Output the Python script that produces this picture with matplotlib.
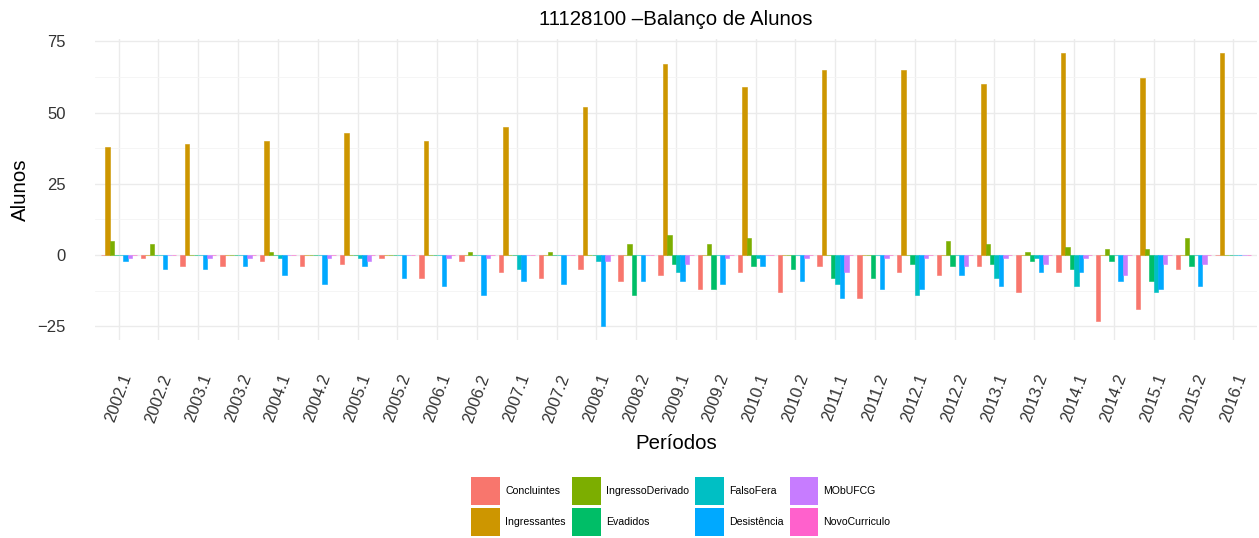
import numpy as np
import matplotlib
matplotlib.use("Agg")
import matplotlib.pyplot as plt
from matplotlib.patches import Patch

plt.rcParams['font.family'] = ['Liberation Sans', 'DejaVu Sans']

# Periodos (eixo x)
periodos = ["2002.1", "2002.2", "2003.1", "2003.2", "2004.1", "2004.2", "2005.1", "2005.2",
            "2006.1", "2006.2", "2007.1", "2007.2", "2008.1", "2008.2", "2009.1", "2009.2",
            "2010.1", "2010.2", "2011.1", "2011.2", "2012.1", "2012.2", "2013.1", "2013.2",
            "2014.1", "2014.2", "2015.1", "2015.2", "2016.1"]

# Valores de cada serie
concluintes = [0, -1, -4, -4, -2, -4, -3, -1, -8, -2, -6, -8, -5, -9, -7, -12,
               -6, -13, -4, -15, -6, -7, -4, -13, -6, -23, -19, -5, 0]
ingressantes = [38, 0, 39, 0, 40, 0, 43, 0, 40, 0, 45, 0, 52, 0, 67, 0,
                59, 0, 65, 0, 65, 0, 60, 0, 71, 0, 62, 0, 71]
ingresso_derivado = [5, 4, 0, 0, 1, 0, 0, 0, 0, 1, 0, 1, 0, 4, 7, 4,
                     6, 0, 0, 0, 0, 5, 4, 1, 3, 2, 2, 6, 0]
evadidos = [0, 0, 0, 0, 0, 0, 0, 0, 0, 0, 0, 0, 0, -14, -3, -12,
            -4, -5, -8, -8, -3, -4, -3, -2, -5, -2, -9, -4, 0]
falso_fera = [0, 0, 0, 0, -1, 0, -1, 0, 0, 0, -5, 0, -2, 0, -6, 0,
              -1, 0, -10, 0, -14, 0, -8, -1, -11, 0, -13, 0, 0]
desistencia = [-2, -5, -5, -4, -7, -10, -4, -8, -11, -14, -9, -10, -25, -9, -9, -10,
               -4, -9, -15, -12, -12, -7, -11, -6, -6, -9, -12, -11, 0]
mob_ufcg = [-1, 0, -1, -1, 0, -1, -2, 0, -1, -1, 0, 0, -2, 0, -3, -1,
            0, -1, -6, -1, -1, -4, -1, -3, -1, -7, -3, -3, 0]
novo_curriculo = [0] * 29

series = ["Concluintes", "Ingressantes", "IngressoDerivado", "Evadidos",
          "FalsoFera", "Desistência", "MObUFCG", "NovoCurriculo"]
valores = [concluintes, ingressantes, ingresso_derivado, evadidos,
           falso_fera, desistencia, mob_ufcg, novo_curriculo]
cores = ["#F8766D", "#CD9600", "#7CAE00", "#00BE67",
         "#00BFC4", "#00A9FF", "#C77CFF", "#FF61CC"]

fig = plt.figure(figsize=(12.59, 5.38), dpi=100)
ax = fig.add_axes([0.0753, 0.368, 0.9233, 0.5595])

x = np.arange(len(periodos))
larg = 0.9 / len(series)
for j, (nome, v, c) in enumerate(zip(series, valores, cores)):
    ax.bar(x + (j - 3.5) * larg, v, width=larg, color=c, edgecolor=c,
           linewidth=0.4, label=nome, zorder=3)

# limites no estilo ggplot (expansao de 5% / 0.6)
todos = np.concatenate([np.array(v) for v in valores])
lo, hi = min(todos.min(), 0), max(todos.max(), 0)
pad = 0.05 * (hi - lo)
ax.set_ylim(lo - pad, hi + pad)
ax.set_xlim(-0.6, len(periodos) - 1 + 0.6)

ax.set_yticks([-25, 0, 25, 50, 75])
ax.set_yticks([-12.5, 12.5, 37.5, 62.5], minor=True)
ax.set_xticks(x)
ax.set_xticklabels(periodos, rotation=70, ha='center', va='top')
ax.tick_params(axis='x', length=0, pad=23, labelsize=11.8, colors='#333333')
ax.tick_params(axis='y', which='both', length=0, pad=21, labelsize=12, colors='#333333')

ax.grid(True, which='major', color='#EBEBEB', linewidth=1.0, zorder=0)
ax.grid(True, which='minor', axis='y', color='#F4F4F4', linewidth=0.6, zorder=0)
for s in ax.spines.values():
    s.set_visible(False)

fig.text(676 / 1259, 1 - 25 / 538, "11128100 –Balanço de Alunos", ha='center',
         va='baseline', fontsize=14.7)
fig.text(676 / 1259, 1 - 449 / 538, "Períodos", ha='center', va='baseline', fontsize=14.7)
fig.text(20 / 1259, 1 - 190 / 538, "Alunos", ha='center', va='center',
         rotation=90, fontsize=14.7)

handles = [Patch(facecolor=c, edgecolor='none', label=n) for n, c in zip(series, cores)]
fig.legend(handles=handles, ncol=4, loc='center', bbox_to_anchor=(681 / 1259, 1 - 506.5 / 538),
           frameon=False, fontsize=7.6, handlelength=2.7, handleheight=3.72,
           handletextpad=0.5, columnspacing=0.6, labelspacing=0.3, borderpad=0)

fig.savefig("out.png", dpi=100)
